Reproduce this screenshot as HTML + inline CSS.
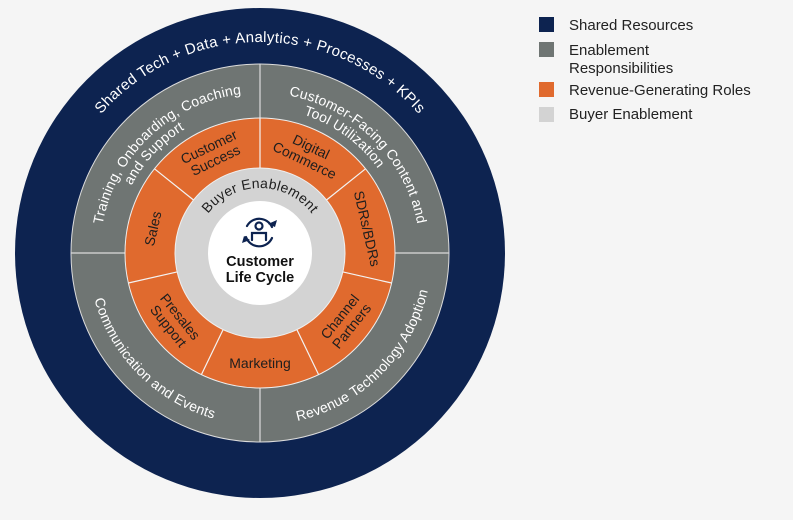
<!DOCTYPE html>
<html><head><meta charset="utf-8"><style>
html,body{margin:0;padding:0;background:#f5f5f5;}
svg{display:block;font-family:"Liberation Sans",sans-serif;}
</style></head><body>
<svg width="793" height="520" viewBox="0 0 793 520" xmlns="http://www.w3.org/2000/svg">
<rect width="793" height="520" fill="#f5f5f5"/>
<defs>
<path id="pOuter" d="M49,253 A211,211 0 0 1 471,253"/>
<path id="pTL1" d="M100,253 A160,160 0 0 1 260,93"/>
<path id="pTL2" d="M115,253 A145,145 0 0 1 260,108"/>
<path id="pTR1" d="M260,93 A160,160 0 0 1 420,253"/>
<path id="pTR2" d="M260,108 A145,145 0 0 1 405,253"/>
<path id="pBL" d="M88,253 A172,172 0 0 0 260,425"/>
<path id="pBR" d="M260,425 A172,172 0 0 0 432,253"/>
<path id="pBE" d="M195,253 A65,65 0 0 1 325,253"/>
</defs>
<circle cx="260" cy="253" r="245" fill="#0d2350"/>
<circle cx="260" cy="253" r="189" fill="#6f7573" stroke="#dcdcdc" stroke-width="1"/>
<g stroke="#dcdcdc" stroke-width="1.2">
<line x1="260" y1="64" x2="260" y2="118"/><line x1="260" y1="388" x2="260" y2="442"/>
<line x1="71" y1="253" x2="125" y2="253"/><line x1="395" y1="253" x2="449" y2="253"/>
</g>
<circle cx="260" cy="253" r="135" fill="#e06a2e" stroke="#eeeeee" stroke-width="1"/>
<g stroke="#f3f3f3" stroke-width="1.2">
<line x1="260" y1="168" x2="260" y2="118"/>
<line x1="193.5" y1="200" x2="154.5" y2="168.8"/>
<line x1="177.1" y1="271.9" x2="128.4" y2="283"/>
<line x1="223.1" y1="329.6" x2="201.4" y2="374.6"/>
<line x1="296.9" y1="329.6" x2="318.6" y2="374.6"/>
<line x1="342.9" y1="271.9" x2="391.6" y2="283"/>
<line x1="326.5" y1="200" x2="365.5" y2="168.8"/>
</g>
<circle cx="260" cy="253" r="85" fill="#d3d3d3" stroke="#f0f0f0" stroke-width="1"/>
<circle cx="260" cy="253" r="52" fill="#ffffff"/>

<g font-size="15" fill="#ffffff" text-anchor="middle" letter-spacing="0.3">
<text><textPath href="#pOuter" startOffset="50%">Shared Tech + Data + Analytics + Processes + KPIs</textPath></text>
</g>
<g font-size="14" fill="#ffffff" text-anchor="middle" letter-spacing="0.2">
<text><textPath href="#pTL1" startOffset="52%">Training, Onboarding, Coaching</textPath></text>
<text><textPath href="#pTL2" startOffset="48%">and Support</textPath></text>
<text><textPath href="#pTR1" startOffset="50%">Customer-Facing Content and</textPath></text>
<text><textPath href="#pTR2" startOffset="40%">Tool Utilization</textPath></text>
<text><textPath href="#pBL" startOffset="50%">Communication and Events</textPath></text>
<text><textPath href="#pBR" startOffset="50%">Revenue Technology Adoption</textPath></text>
</g>
<text font-size="14" fill="#1e1e1e" text-anchor="middle" letter-spacing="0.3"><textPath href="#pBE" startOffset="50%">Buyer Enablement</textPath></text>

<g font-size="14" fill="#1e1e1e" text-anchor="middle">
<text transform="translate(212.3,153.9) rotate(-25.7)"><tspan x="0" y="-3">Customer</tspan><tspan x="0" y="12">Success</tspan></text>
<text transform="translate(152.8,228.5) rotate(-77.1)"><tspan x="0" y="5">Sales</tspan></text>
<text transform="translate(174,321.6) rotate(51.4)"><tspan x="0" y="-3">Presales</tspan><tspan x="0" y="12">Support</tspan></text>
<text transform="translate(260,363) rotate(0)"><tspan x="0" y="5">Marketing</tspan></text>
<text transform="translate(346,321.6) rotate(-51.4)"><tspan x="0" y="-3">Channel</tspan><tspan x="0" y="12">Partners</tspan></text>
<text transform="translate(367.2,228.5) rotate(77.1)"><tspan x="0" y="5">SDRs/BDRs</tspan></text>
<text transform="translate(307.7,153.9) rotate(25.7)"><tspan x="0" y="-3">Digital</tspan><tspan x="0" y="12">Commerce</tspan></text>
</g>

<!-- icon -->
<g fill="none" stroke="#0d2350" stroke-width="2.2" stroke-linecap="round">
<path d="M247,226 A14,14 0 0 1 272,227"/>
<path d="M272,238 A14,14 0 0 1 246,237"/>
<circle cx="259" cy="226" r="3.5"/>
<path d="M252,240 L252,233 L266,233 L266,240"/>
</g>
<path d="M268,224 L275,227 L277,220 Z" fill="#0d2350"/>
<path d="M250,240 L244,236 L242,243 Z" fill="#0d2350"/>
<g font-size="14.5" font-weight="bold" fill="#111" text-anchor="middle">
<text x="260" y="266">Customer</text>
<text x="260" y="282">Life Cycle</text>
</g>

<!-- legend -->
<rect x="539" y="17" width="15" height="15" fill="#0d2350"/>
<rect x="539" y="42" width="15" height="15" fill="#6f7573"/>
<rect x="539" y="82" width="15" height="15" fill="#e06a2e"/>
<rect x="539" y="107" width="15" height="15" fill="#d3d3d3"/>
<g font-size="15" fill="#222">
<text x="569" y="30">Shared Resources</text>
<text x="569" y="55">Enablement</text>
<text x="569" y="73">Responsibilities</text>
<text x="569" y="95">Revenue-Generating Roles</text>
<text x="569" y="119">Buyer Enablement</text>
</g>
</svg>
</body></html>
